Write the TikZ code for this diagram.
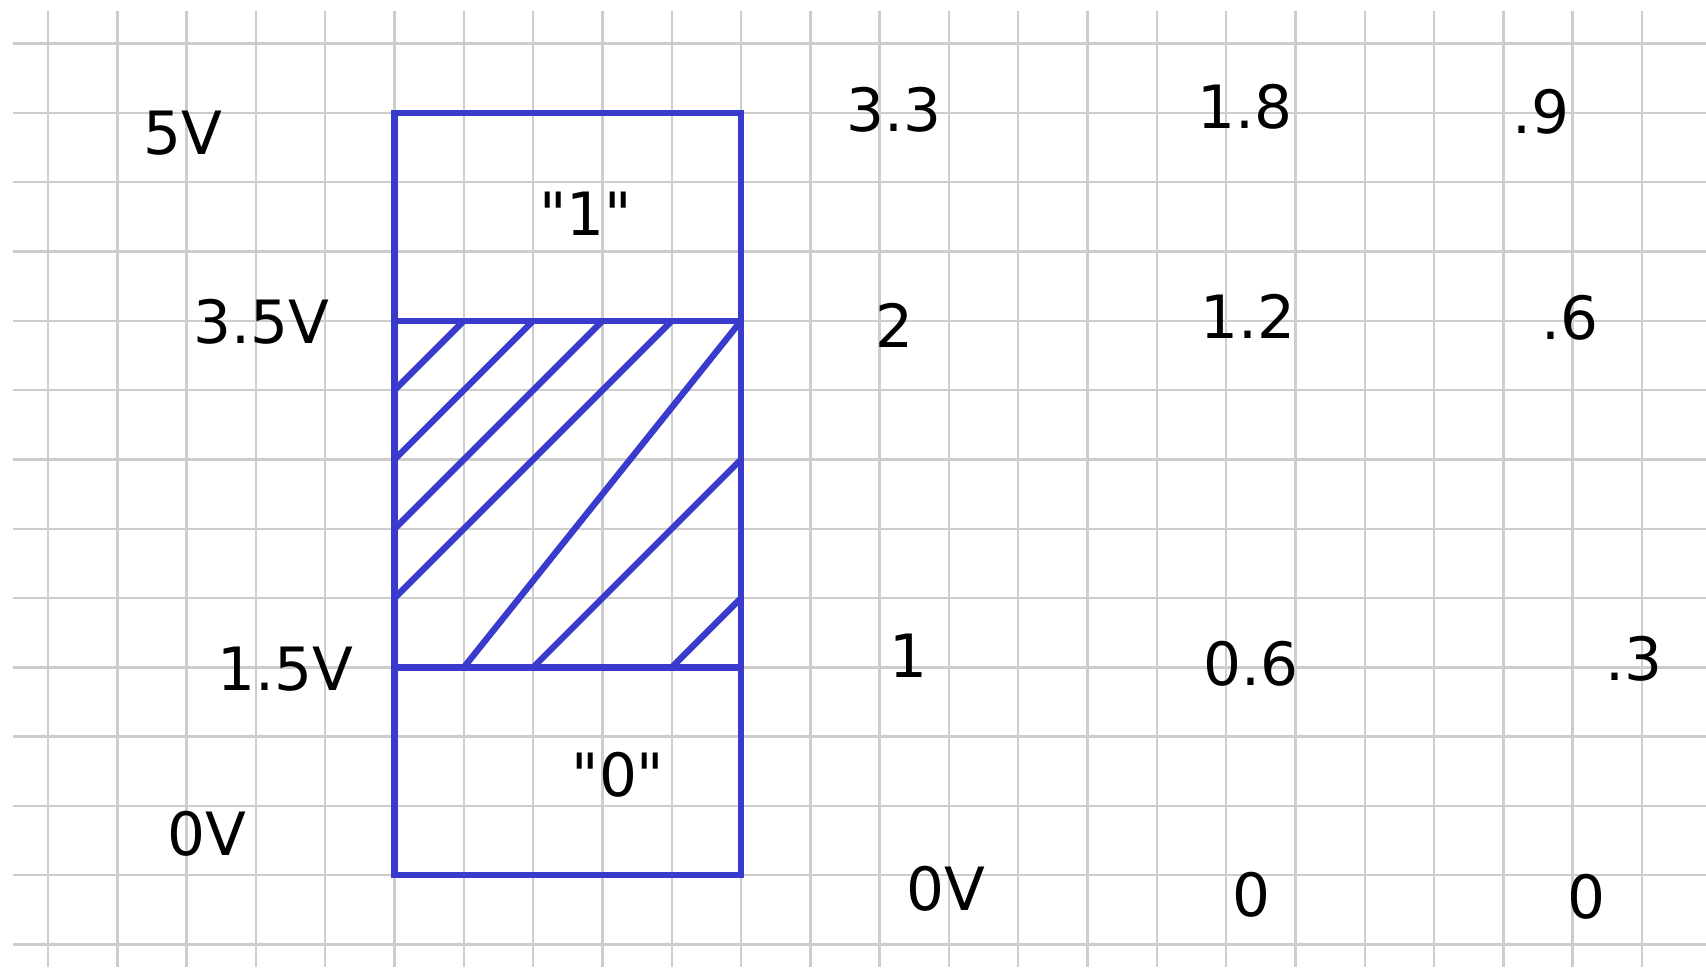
\documentclass[tikz,border=0pt]{standalone}
\usepackage{fontspec}
\setmainfont{DejaVu Sans}[Ligatures=TeXOff]
\definecolor{gridgray}{RGB}{205,205,205}
\definecolor{boxblue}{RGB}{58,58,205}
\begin{document}
\begin{tikzpicture}[
  gridline/.style={draw=gridgray, line width=1pt},
  blueline/.style={draw=boxblue, line width=2.6pt, line cap=rect, line join=miter},
  hatchline/.style={draw=boxblue, line width=2.6pt},
  lbl/.style={inner sep=0pt, anchor=center, font=\fontsize{24.5}{29}\selectfont}
]
\useasboundingbox (-0.693,-13.324) rectangle (23.925,0.63);
\fill[white] (-0.693,-13.324) rectangle (23.925,0.63);
% grid
\foreach \j in {0,...,13} \draw[gridline] (-0.505,-\j) -- (23.925,-\j);
\foreach \k in {0,...,23} \draw[gridline] (\k,0.475) -- (\k,-13.324);
% box
\draw[blueline] (5,-1) rectangle (10,-12);
\draw[blueline] (5,-4) -- (10,-4);
\draw[blueline] (5,-9) -- (10,-9);
% hatching
\draw[hatchline] (6,-4) -- (5,-5);
\draw[hatchline] (7,-4) -- (5,-6);
\draw[hatchline] (8,-4) -- (5,-7);
\draw[hatchline] (9,-4) -- (5,-8);
\draw[hatchline] (10,-4) -- (6,-9);
\draw[hatchline] (10,-6) -- (7,-9);
\draw[hatchline] (10,-8) -- (9,-9);
% labels
\node[lbl] (v5) at (1.945,-1.293) {5V};
\node[lbl] (v35) at (3.075,-4.006) {3.5V};
\node[lbl] (v15) at (3.421,-9.022) {1.5V};
\node[lbl] (v0a) at (2.290,-11.405) {0V};
\node[lbl] (one) at (7.755,-2.454) {"1"};
\node[lbl] (zero) at (8.225,-10.543) {"0"};
\node[lbl] (a33) at (12.212,-0.948) {3.3};
\node[lbl] (a2) at (12.212,-4.07) {2};
\node[lbl] (a1) at (12.417,-8.834) {1};
\node[lbl] (a0) at (12.951,-12.189) {0V};
\node[lbl] (b18) at (17.268,-0.917) {1.8};
\node[lbl] (b12) at (17.316,-3.942) {1.2};
\node[lbl] (b06) at (17.362,-8.943) {0.6};
\node[lbl] (b0) at (17.362,-12.282) {0};
\node[lbl] (c9) at (21.538,-0.980) {.9};
\node[lbl] (c6) at (21.962,-3.96) {.6};
\node[lbl] (c3) at (22.889,-8.88) {.3};
\node[lbl] (c0) at (22.198,-12.314) {0};
\end{tikzpicture}
\end{document}
